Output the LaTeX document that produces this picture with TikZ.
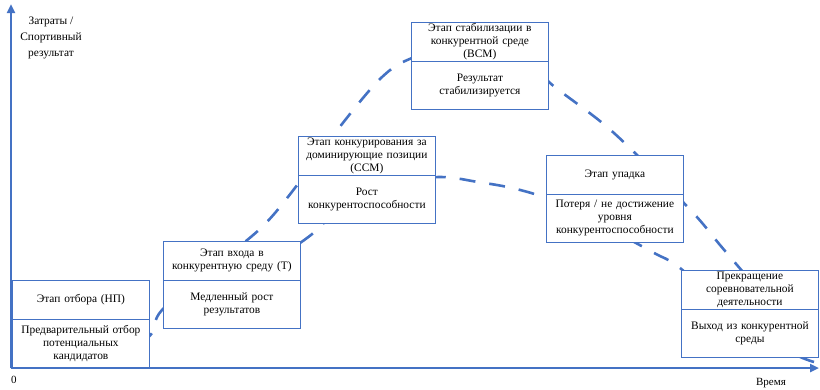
\documentclass[tikz,border=0pt]{standalone}
\usepackage{fontspec}
\setmainfont{Liberation Serif}
\usepackage{tikz}
\usetikzlibrary{arrows.meta,positioning}
\definecolor{chartblue}{HTML}{4472C4}

\begin{document}
\begin{tikzpicture}[x=1pt,y=-1pt,
    stagehead/.style={draw=chartblue,fill=white,line width=0.8pt,minimum width=137pt,minimum height=39pt,
        text width=135pt,inner sep=0pt,align=center,font=\fontsize{11.4}{13}\selectfont},
    stagebody/.style={stagehead,minimum height=48pt},
    trend/.style={chartblue,line width=2.6pt,dash pattern=on 16pt off 14pt},
    axis/.style={chartblue,line width=2.4pt,-{Triangle[length=9pt,width=8pt]}}]
\useasboundingbox (0,0) rectangle (820,389);
\coordinate (o) at (11,368);
\draw[axis] (o) -- (11,4);
\draw[axis] (o) -- (819,368);
\draw[trend] plot[smooth,tension=0.55] coordinates {(140,344) (152,333) (162,310) (212,268) (262,227)
    (298,184) (335,133) (380,79) (412,58) (470,42) (530,67) (556,88) (606,126) (650,168) (696,216) (720,245) (743,272)};
\draw[trend] plot[smooth,tension=0.55] coordinates {(300,243) (317,230) (345,203) (390,183) (440,177) (478,182)
    (512,188) (546,198) (590,218) (636,243) (656,254) (680,268) (740,320) (790,352) (814,362)};
\foreach \i/\x/\y/\hd/\tx in {
    1/12/280/{Этап отбора (НП)}/{Предварительный отбор\\потенциальных\\кандидатов},
    2/163/241/{Этап входа в\\конкурентную среду (Т)}/{Медленный рост\\результатов},
    3/298/136/{Этап конкурирования за\\доминирующие позиции\\(ССМ)}/{Рост\\конкурентоспособности},
    4/411/22/{Этап стабилизации в\\конкурентной среде\\(ВСМ)}/{Результат\\стабилизируется},
    5/546/155/{Этап упадка}/{Потеря / не достижение\\уровня\\конкурентоспособности},
    6/681/270/{Прекращение\\соревновательной\\деятельности}/{Выход из конкурентной\\среды}}{
    \node[stagehead,anchor=north west] (head\i) at (\x,\y) {\hd};
    \node[stagebody,below=-0.8pt of head\i] (body\i) {\tx};
}
\node[align=center,font=\fontsize{11.4}{16}\selectfont] (ylabel) at (51,38) {Затраты /\\Спортивный\\результат};
\node[font=\fontsize{11}{12}\selectfont] (zero) at (14,380) {0};
\node[font=\fontsize{11}{12}\selectfont] (xlabel) at (771,383) {Время};
\end{tikzpicture}
\end{document}
